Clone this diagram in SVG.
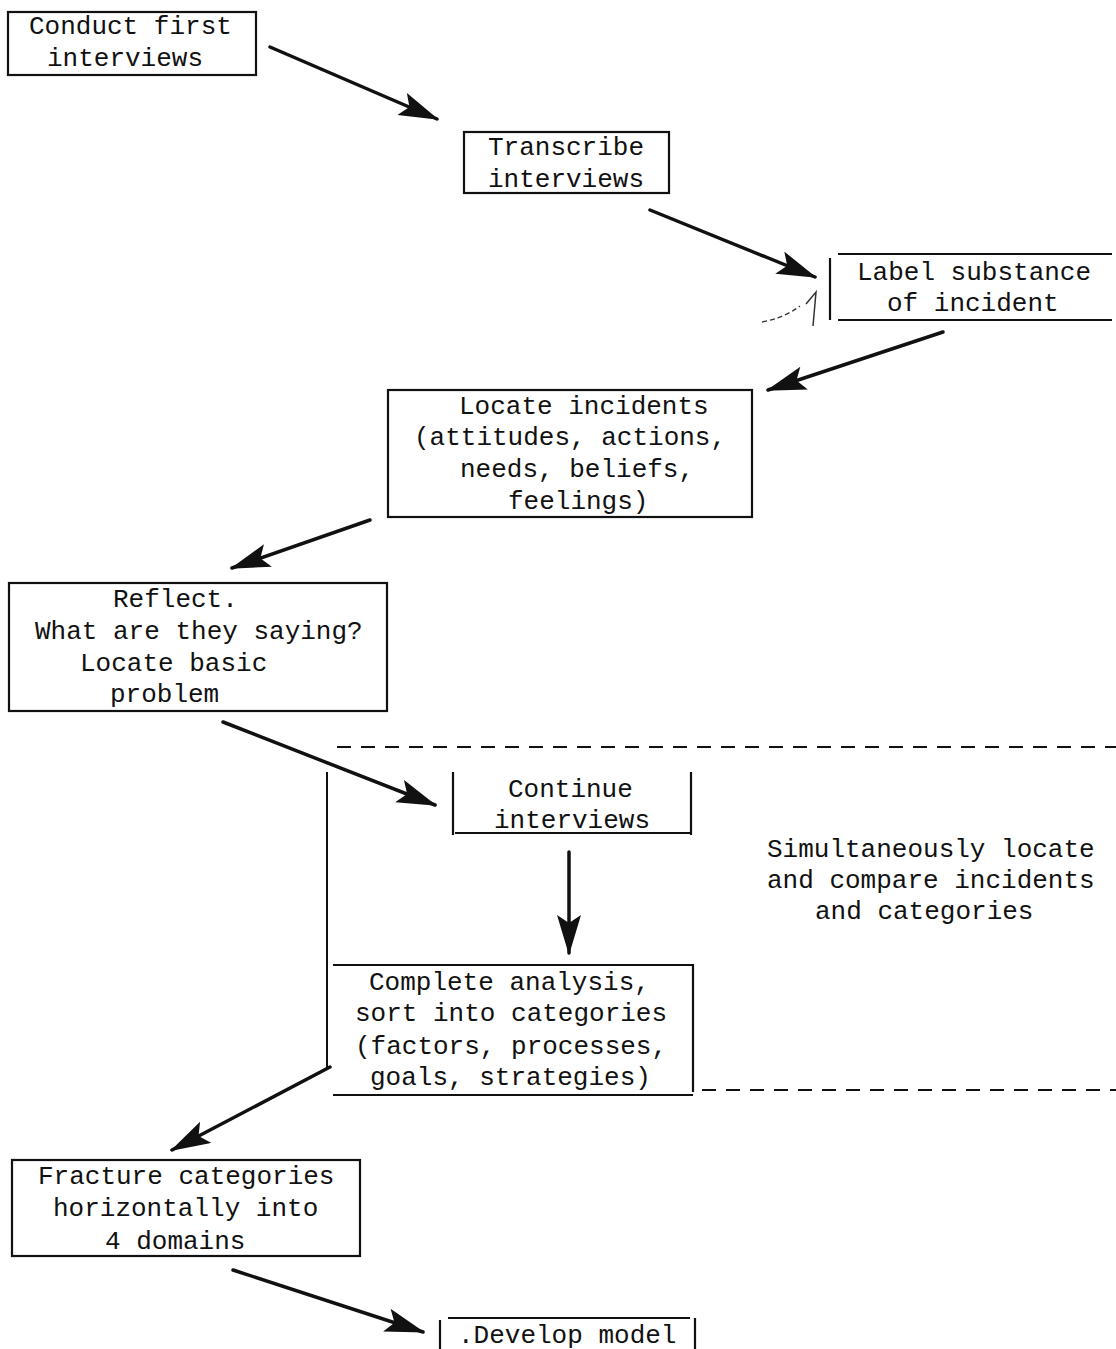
<svg xmlns="http://www.w3.org/2000/svg" width="1116" height="1349" viewBox="0 0 1116 1349">
<defs>
<style>
.t{font-family:"Liberation Mono","DejaVu Sans Mono",monospace;font-size:26px;fill:#111}
.box{fill:none;stroke:#111;stroke-width:2.2}
.arr{fill:none;stroke:#111;stroke-width:3.5;stroke-linecap:round}
.dash{fill:none;stroke:#111;stroke-width:2;stroke-dasharray:14 10}
</style>
<marker id="ah" markerUnits="userSpaceOnUse" markerWidth="44" markerHeight="26" refX="38" refY="12" orient="auto">
<path d="M0,0 L40,12 L0,24 L8,12 z" fill="#111"/>
</marker>
</defs>
<rect width="1116" height="1349" fill="#fff"/>
<g id="connectors">
<line class="arr" x1="270" y1="47" x2="437" y2="119" marker-end="url(#ah)"/>
<line class="arr" x1="650" y1="210" x2="815" y2="277" marker-end="url(#ah)"/>
<line class="arr" x1="943" y1="332" x2="768" y2="390" marker-end="url(#ah)"/>
<line class="arr" x1="370" y1="520" x2="232" y2="568" marker-end="url(#ah)"/>
<line class="arr" x1="223" y1="722" x2="435" y2="805" marker-end="url(#ah)"/>
<line class="arr" x1="569" y1="852" x2="569" y2="953" marker-end="url(#ah)"/>
<line class="arr" x1="330" y1="1067" x2="172" y2="1150" marker-end="url(#ah)"/>
<line class="arr" x1="233" y1="1270" x2="423" y2="1332" marker-end="url(#ah)"/>
<line class="dash" x1="337" y1="747" x2="1116" y2="747"/>
<line class="dash" x1="702" y1="1090" x2="1116" y2="1090"/>
<line stroke="#111" stroke-width="2" x1="327" y1="772" x2="327" y2="1070"/>
<path d="M762,322 q22,-4 38,-16" fill="none" stroke="#333" stroke-width="1.3" stroke-dasharray="5 3"/>
<path d="M806,304 l10,-12 l-3,34" fill="none" stroke="#333" stroke-width="1.5"/>
</g>
<g id="n1">
<rect class="box" x="8" y="12" width="248" height="63"/>
<text class="t" x="29" y="34">Conduct first</text>
<text class="t" x="47" y="66">interviews</text>
</g>
<g id="n2">
<rect class="box" x="464" y="132" width="205" height="61"/>
<text class="t" x="488" y="155">Transcribe</text>
<text class="t" x="488" y="187">interviews</text>
</g>
<g id="n3">
<path class="box" d="M830,258 V320 M838,254 H1112 M838,320 H1112"/>
<text class="t" x="857" y="280">Label substance</text>
<text class="t" x="887" y="311">of incident</text>
</g>
<g id="n4">
<rect class="box" x="388" y="390" width="364" height="127"/>
<text class="t" x="459" y="414">Locate incidents</text>
<text class="t" x="414" y="445">(attitudes, actions,</text>
<text class="t" x="460" y="477">needs, beliefs,</text>
<text class="t" x="508" y="509">feelings)</text>
</g>
<g id="n5">
<rect class="box" x="9" y="583" width="378" height="128"/>
<text class="t" x="113" y="607">Reflect.</text>
<text class="t" x="35" y="639">What are they saying?</text>
<text class="t" x="80" y="671">Locate basic</text>
<text class="t" x="110" y="702">problem</text>
</g>
<g id="n6">
<path class="box" d="M453,772 V835 M691,772 V835 M455,833 H690"/>
<text class="t" x="508" y="797">Continue</text>
<text class="t" x="494" y="828">interviews</text>
</g>
<g id="note">
<text class="t" x="767" y="857">Simultaneously locate</text>
<text class="t" x="767" y="888">and compare incidents</text>
<text class="t" x="815" y="919">and categories</text>
</g>
<g id="n7">
<path class="box" d="M333,965 H693 V1092 M333,1095 H693"/>
<text class="t" x="369" y="990">Complete analysis,</text>
<text class="t" x="355" y="1021">sort into categories</text>
<text class="t" x="355" y="1054">(factors, processes,</text>
<text class="t" x="370" y="1085">goals, strategies)</text>
</g>
<g id="n8">
<rect class="box" x="12" y="1160" width="348" height="96"/>
<text class="t" x="38" y="1184">Fracture categories</text>
<text class="t" x="53" y="1216">horizontally into</text>
<text class="t" x="105" y="1249">4 domains</text>
</g>
<g id="n9">
<path class="box" d="M440,1320 V1349 M695,1318 V1349 M448,1318 H690"/>
<text class="t" x="458" y="1343">.Develop model</text>
</g>
</svg>
